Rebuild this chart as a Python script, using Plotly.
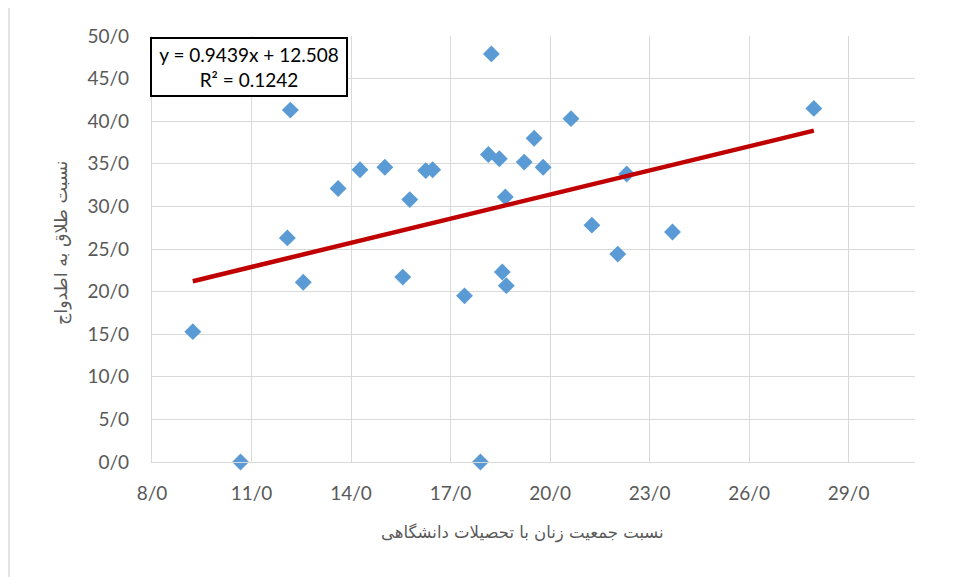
import plotly.graph_objects as go

# Data (x: share of women with university education, y: divorce-to-marriage ratio)
x_vals = [9.23, 10.67, 12.17, 12.08, 12.56, 13.61, 14.27, 15.02, 15.56, 15.77,
          16.25, 16.46, 17.42, 17.90, 18.23, 18.14, 18.47, 18.56, 18.65, 18.68,
          19.22, 19.52, 19.79, 20.63, 21.26, 22.04, 22.31, 23.69, 27.95]
y_vals = [15.3, 0.0, 41.3, 26.3, 21.1, 32.1, 34.3, 34.6, 21.7, 30.8,
          34.2, 34.3, 19.5, 0.0, 47.9, 36.1, 35.6, 22.3, 31.1, 20.7,
          35.2, 38.0, 34.6, 40.3, 27.8, 24.4, 33.8, 27.0, 41.5]

# Linear trendline as shown on the chart
slope = 0.9439
intercept = 12.508
r_squared = 0.1242
trend_x = [min(x_vals), max(x_vals)]
trend_y = [slope * v + intercept for v in trend_x]

x_ticks = [8, 11, 14, 17, 20, 23, 26, 29]
x_tick_text = ["8/0", "11/0", "14/0", "17/0", "20/0", "23/0", "26/0", "29/0"]
y_ticks = [0, 5, 10, 15, 20, 25, 30, 35, 40, 45, 50]
y_tick_text = ["0/0", "5/0", "10/0", "15/0", "20/0", "25/0", "30/0", "35/0",
               "40/0", "45/0", "50/0"]

x_title = "نسبت جمعیت زنان با تحصیلات دانشگاهی"
y_title = "نسبت طلاق به اطدواج"
eq_text = f"y = {slope}x + {intercept}<br>R² = {r_squared}"

fig = go.Figure()
fig.add_trace(go.Scatter(
    x=x_vals, y=y_vals, mode="markers",
    marker=dict(symbol="diamond", size=13, color="#5B9BD5"),
    cliponaxis=False, showlegend=False))
fig.add_trace(go.Scatter(
    x=trend_x, y=trend_y, mode="lines",
    line=dict(color="#C00000", width=4.5),
    showlegend=False))

tick_font = dict(family="Lato, 'Open Sans', sans-serif", size=19, color="#595959")
title_family = "DejaVu Sans, sans-serif"

fig.update_layout(
    width=954, height=569,
    margin=dict(l=144, r=47, t=28, b=115),
    paper_bgcolor="white", plot_bgcolor="white",
    xaxis=dict(range=[8, 31], tickvals=x_ticks, ticktext=x_tick_text,
               showgrid=True, gridcolor="#D9D9D9", gridwidth=1.3,
               zeroline=False, showline=True, linecolor="#D9D9D9", linewidth=1.3,
               ticks="", tickfont=tick_font, ticklabelstandoff=14, automargin=False),
    yaxis=dict(range=[0, 50], tickvals=y_ticks, ticktext=y_tick_text,
               showgrid=True, gridcolor="#D9D9D9", gridwidth=1.3,
               zeroline=False, showline=True, linecolor="#D9D9D9", linewidth=1.3,
               ticks="", tickfont=tick_font, ticklabelstandoff=18, automargin=False),
    annotations=[
        dict(text=eq_text, xref="paper", yref="paper", x=-0.003, y=0.998,
             xanchor="left", yanchor="top", showarrow=False, align="center",
             width=188, height=50,
             font=dict(family="Lato, 'Open Sans', sans-serif", size=19, color="black"),
             bordercolor="black", borderwidth=2, borderpad=3, bgcolor="white"),
        dict(text=x_title, xref="paper", yref="paper", x=0.485, y=-0.1667,
             xanchor="center", yanchor="middle", showarrow=False,
             font=dict(family=title_family, size=16.5, color="#595959")),
        dict(text=y_title, xref="paper", yref="paper", x=-0.1193, y=0.514,
             xanchor="center", yanchor="middle", showarrow=False, textangle=-90,
             font=dict(family=title_family, size=17.5, color="#595959")),
    ],
    shapes=[dict(type="line", xref="paper", yref="paper",
                 x0=-0.1874, x1=-0.1874, y0=1.1, y1=-0.3,
                 line=dict(color="#D9D9D9", width=1.5))],
)

fig.write_html("out.html")
